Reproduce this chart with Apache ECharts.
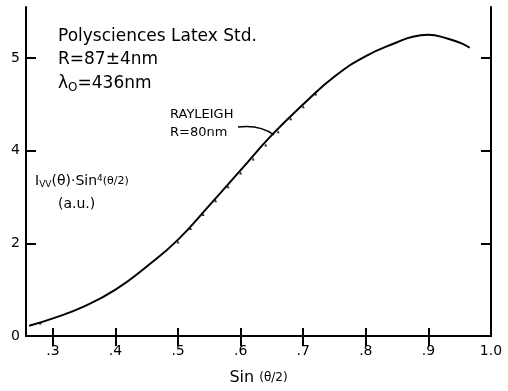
<!DOCTYPE html>
<html>
<head>
<meta charset="utf-8">
<script src="https://cdn.jsdelivr.net/npm/echarts@6/dist/echarts.min.js"></script>
<style>
  html, body { margin: 0; background: #fff; }
  #chart { width: 508px; height: 391px; }
</style>
</head>
<body>
<div id="chart"></div>
<script>
const sinHalf = [0.262, 0.3, 0.35, 0.4, 0.45, 0.5, 0.55, 0.6, 0.65, 0.7, 0.75, 0.8, 0.85, 0.875, 0.9, 0.93, 0.952, 0.966]
const intensity = [0.22, 0.38, 0.64, 1.0, 1.5, 2.08, 2.82, 3.58, 4.34, 5.0, 5.6, 6.04, 6.34, 6.46, 6.5, 6.42, 6.32, 6.22]

// Rayleigh R=80nm points (small triangles under the curve)
const rayleighX = [0.28, 0.5, 0.52, 0.54, 0.56, 0.58, 0.6, 0.62, 0.64, 0.66, 0.68, 0.7, 0.72]
const rayleighY = [0.28, 2.03, 2.32, 2.62, 2.92, 3.22, 3.52, 3.82, 4.12, 4.41, 4.69, 4.95, 5.22]

const xTicks = [0.3, 0.4, 0.5, 0.6, 0.7, 0.8, 0.9, 1.0]
const xTickLabels = ['.3', '.4', '.5', '.6', '.7', '.8', '.9', '1.0']
const yTicks = [0, 2, 4, 6]
const yTickLabels = ['0', '2', '4', '5']

const FONT = 'DejaVu Sans'
const lookup = (ticks, labels) => (v) => {
  const i = ticks.findIndex((t) => Math.abs(t - v) < 1e-6)
  return i < 0 ? '' : labels[i]
}

const chart = echarts.init(document.getElementById('chart'), null, { renderer: 'canvas' })

const axisLine = { show: true, lineStyle: { color: '#000', width: 2 } }
const tick = (vals, len) => ({ show: true, inside: true, length: len, customValues: vals, lineStyle: { color: '#000', width: 2 } })

chart.setOption({
  animation: false,
  backgroundColor: '#fff',
  grid: { left: 26, right: 17, top: 7, bottom: 53 },
  xAxis: [
    {
      type: 'value', position: 'bottom', min: 0.257, max: 1.0,
      axisLine, axisTick: tick(xTicks, 8), splitLine: { show: false },
      axisLabel: {
        customValues: xTicks, margin: 8, color: '#000', fontSize: 14, fontFamily: FONT,
        formatter: lookup(xTicks, xTickLabels),
      },
      name: '{a|Sin }{b|(θ/2)}', nameLocation: 'middle', nameGap: 34,
      nameTextStyle: {
        rich: {
          a: { fontSize: 16, fontFamily: FONT, color: '#000' },
          b: { fontSize: 12, fontFamily: FONT, color: '#000' },
        },
      },
    },
    {
      type: 'value', position: 'top', min: 0.257, max: 1.0,
      axisLine, axisTick: tick(xTicks.slice(0, 7), 10), axisLabel: { show: false }, splitLine: { show: false },
    },
  ],
  yAxis: [
    {
      type: 'value', position: 'left', min: 0, max: 7.1,
      axisLine, axisTick: tick(yTicks, 10), splitLine: { show: false },
      axisLabel: {
        customValues: yTicks, margin: 6, color: '#000', fontSize: 14, fontFamily: FONT,
        formatter: lookup(yTicks, yTickLabels),
      },
    },
    {
      type: 'value', position: 'right', min: 0, max: 7.1,
      axisLine, axisTick: tick(yTicks.slice(1), 10), axisLabel: { show: false }, splitLine: { show: false },
    },
  ],
  series: [
    {
      name: 'Polysciences Latex Std.', type: 'line', smooth: 0.5, showSymbol: false,
      data: sinHalf.map((x, i) => [x, intensity[i]]),
      lineStyle: { color: '#000', width: 2 }, z: 3,
    },
    {
      name: 'RAYLEIGH R=80nm', type: 'scatter', symbol: 'triangle', symbolSize: 3,
      data: rayleighX.map((x, i) => [x, rayleighY[i]]),
      itemStyle: { color: '#000' }, z: 2,
    },
  ],
  graphic: [
    { type: 'text', left: 58, top: 28, style: { text: 'Polysciences Latex Std.', font: `17px "${FONT}"`, fill: '#000' } },
    { type: 'text', left: 58, top: 51, style: { text: 'R=87±4nm', font: `17px "${FONT}"`, fill: '#000' } },
    {
      type: 'text', left: 58, top: 75,
      style: {
        text: '{a|λ}{s|O}{a|=436nm}', fill: '#000',
        rich: {
          a: { font: `17px "${FONT}"`, fill: '#000' },
          s: { font: `12px "${FONT}"`, fill: '#000', padding: [8, 0, 0, 0] },
        },
      },
    },
    { type: 'text', left: 170, top: 108, style: { text: 'RAYLEIGH', font: `13px "${FONT}"`, fill: '#000' } },
    { type: 'text', left: 170, top: 126, style: { text: 'R=80nm', font: `13px "${FONT}"`, fill: '#000' } },
    {
      type: 'bezierCurve',
      shape: { x1: 238, y1: 127, cpx1: 255, cpy1: 125, cpx2: 266, cpy2: 129, x2: 274, y2: 135 },
      style: { stroke: '#000', lineWidth: 1.5, fill: null },
    },
    {
      type: 'text', left: 35, top: 174,
      style: {
        text: '{a|I}{s|VV}{a|(θ)·Sin}{p|4}{b|(θ/2)}', fill: '#000',
        rich: {
          a: { font: `14px "${FONT}"`, fill: '#000' },
          s: { font: `9px "${FONT}"`, fill: '#000', padding: [6, 0, 0, 0] },
          p: { font: `9px "${FONT}"`, fill: '#000', padding: [0, 0, 6, 0] },
          b: { font: `11px "${FONT}"`, fill: '#000' },
        },
      },
    },
    { type: 'text', left: 58, top: 197, style: { text: '(a.u.)', font: `14px "${FONT}"`, fill: '#000' } },
  ],
})
</script>
</body>
</html>
